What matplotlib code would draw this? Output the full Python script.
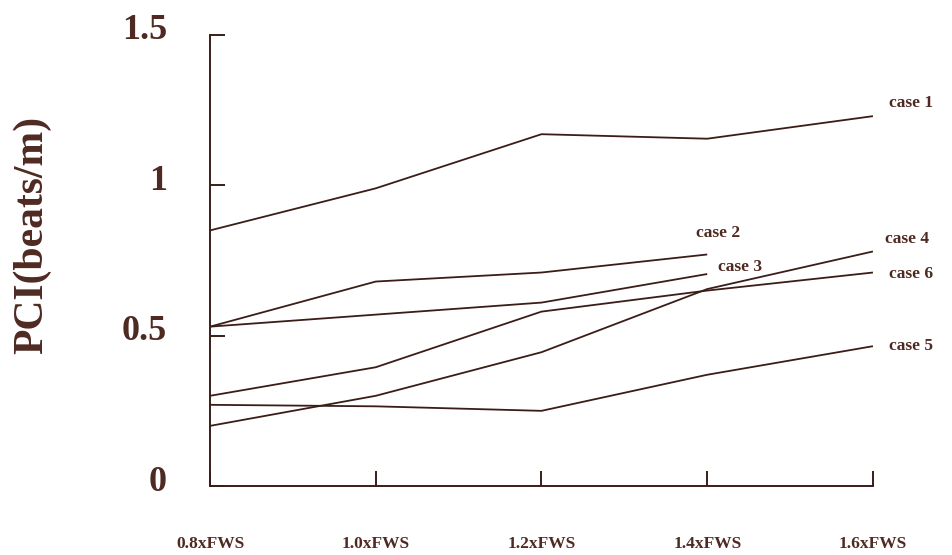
import matplotlib
matplotlib.use("Agg")
import matplotlib.pyplot as plt
from matplotlib.transforms import ScaledTranslation

# flow rate multiples (x) and PCI values per case
x_vals = [0.8, 1.0, 1.2, 1.4, 1.6]
x_labels = ["0.8xFWS", "1.0xFWS", "1.2xFWS", "1.4xFWS", "1.6xFWS"]

case1 = [0.85, 0.99, 1.17, 1.155, 1.23]
case2 = [0.53, 0.68, 0.71, 0.77]
case3 = [0.53, 0.57, 0.61, 0.705]
case4 = [0.20, 0.30, 0.445, 0.655, 0.78]
case5 = [0.27, 0.265, 0.25, 0.37, 0.465]
case6 = [0.30, 0.395, 0.58, 0.65, 0.71]

y_ticks = [0, 0.5, 1, 1.5]
y_tick_labels = ["0", "0.5", "1", "1.5"]

LINE = "#3b1d18"
TEXT = "#4e2a22"
FONT = "Liberation Serif"

plt.rcParams["font.family"] = [FONT, "DejaVu Serif"]
plt.rcParams["font.weight"] = "bold"

fig = plt.figure(figsize=(9.53, 5.55), dpi=100)
ax = fig.add_axes([0.2204, 0.1243, 0.6956, 0.8127])

series = [
    ("case 1", case1, (38, 13)),
    ("case 2", case2, (11, 21)),
    ("case 3", case3, (33, 7)),
    ("case 4", case4, (34, 12)),
    ("case 6", case6, (38, -1)),
    ("case 5", case5, (38, 0)),
]
for name, vals, off in series:
    xs = x_vals[:len(vals)]
    ax.plot(xs, vals, color=LINE, lw=1.3, solid_capstyle="butt")
    ax.annotate(name, xy=(xs[-1], vals[-1]), xytext=off, textcoords="offset pixels",
                ha="center", va="center", fontsize=12.5, fontweight="bold", color=TEXT)

ax.set_xlim(0.8, 1.6)
ax.set_ylim(0, 1.5)
ax.set_xticks(x_vals)
ax.set_xticklabels(x_labels)
ax.set_yticks(y_ticks)
ax.set_yticklabels(y_tick_labels)

for side in ("top", "right"):
    ax.spines[side].set_visible(False)
for side in ("left", "bottom"):
    ax.spines[side].set_color(LINE)
    ax.spines[side].set_linewidth(1.4)

ax.tick_params(axis="both", direction="in", colors=LINE, width=1.4, length=11)
ax.tick_params(axis="y", pad=31, labelsize=26, labelcolor=TEXT)
ax.tick_params(axis="x", pad=36, labelsize=12.5, labelcolor=TEXT)
for lab in ax.get_yticklabels():
    lab.set_fontweight("bold")
    lab.set_transform(lab.get_transform() + ScaledTranslation(0, 8 / 100, fig.dpi_scale_trans))
for lab in ax.get_xticklabels():
    lab.set_fontweight("bold")

fig.text(32 / 953, 1 - 235 / 555, "PCI(beats/m)", rotation=90, ha="center", va="center",
         fontsize=30, fontweight="bold", color=TEXT)

fig.savefig("out.png", dpi=100, facecolor="white")
